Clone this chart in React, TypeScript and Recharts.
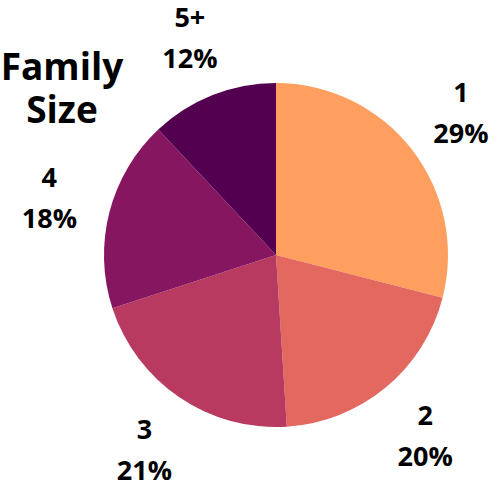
import { PieChart, Pie, Cell } from 'recharts';

const categories = ['1', '2', '3', '4', '5+'];
const shares = [29, 20, 21, 18, 12];
const sliceColors = ['#FE9F5F', '#E3685F', '#B83A61', '#86165F', '#530051'];

const RAD = Math.PI / 180;
const FONT = '"Open Sans", sans-serif';

const chartData = categories.map((name, i) => ({ name, value: shares[i] }));

function renderLabel(props: any) {
  const { cx, cy, midAngle, index } = props;
  const r = 234;
  const x = cx + r * Math.cos(-midAngle * RAD);
  const y = cy + r * Math.sin(-midAngle * RAD);
  return (
    <text
      key={`lbl-${index}`}
      x={x}
      textAnchor="middle"
      fontFamily={FONT}
      fontWeight={700}
      fontSize={27}
      fill="#000"
    >
      <tspan x={x} y={y - 10}>{categories[index]}</tspan>
      <tspan x={x} y={y + 31}>{shares[index]}%</tspan>
    </text>
  );
}

export default function App() {
  return (
    <div style={{ position: 'absolute', left: 0, top: 0, width: 504, height: 482, background: '#fff' }}>
      <PieChart width={504} height={482} margin={{ top: 0, right: 0, bottom: 0, left: 0 }}>
        <Pie
          data={chartData}
          dataKey="value"
          nameKey="name"
          cx={276}
          cy={255}
          outerRadius={172}
          startAngle={90}
          endAngle={-270}
          stroke="none"
          label={renderLabel}
          labelLine={false}
          isAnimationActive={false}
        >
          {chartData.map((d, i) => (
            <Cell key={d.name} fill={sliceColors[i]} />
          ))}
        </Pie>
      </PieChart>
      <svg width={504} height={482} style={{ position: 'absolute', left: 0, top: 0, pointerEvents: 'none' }}>
        <text textAnchor="middle" fontFamily={FONT} fontWeight={700} fontSize={37} fill="#000">
          <tspan x={62} y={80}>Family</tspan>
          <tspan x={62} y={123}>Size</tspan>
        </text>
      </svg>
    </div>
  );
}
